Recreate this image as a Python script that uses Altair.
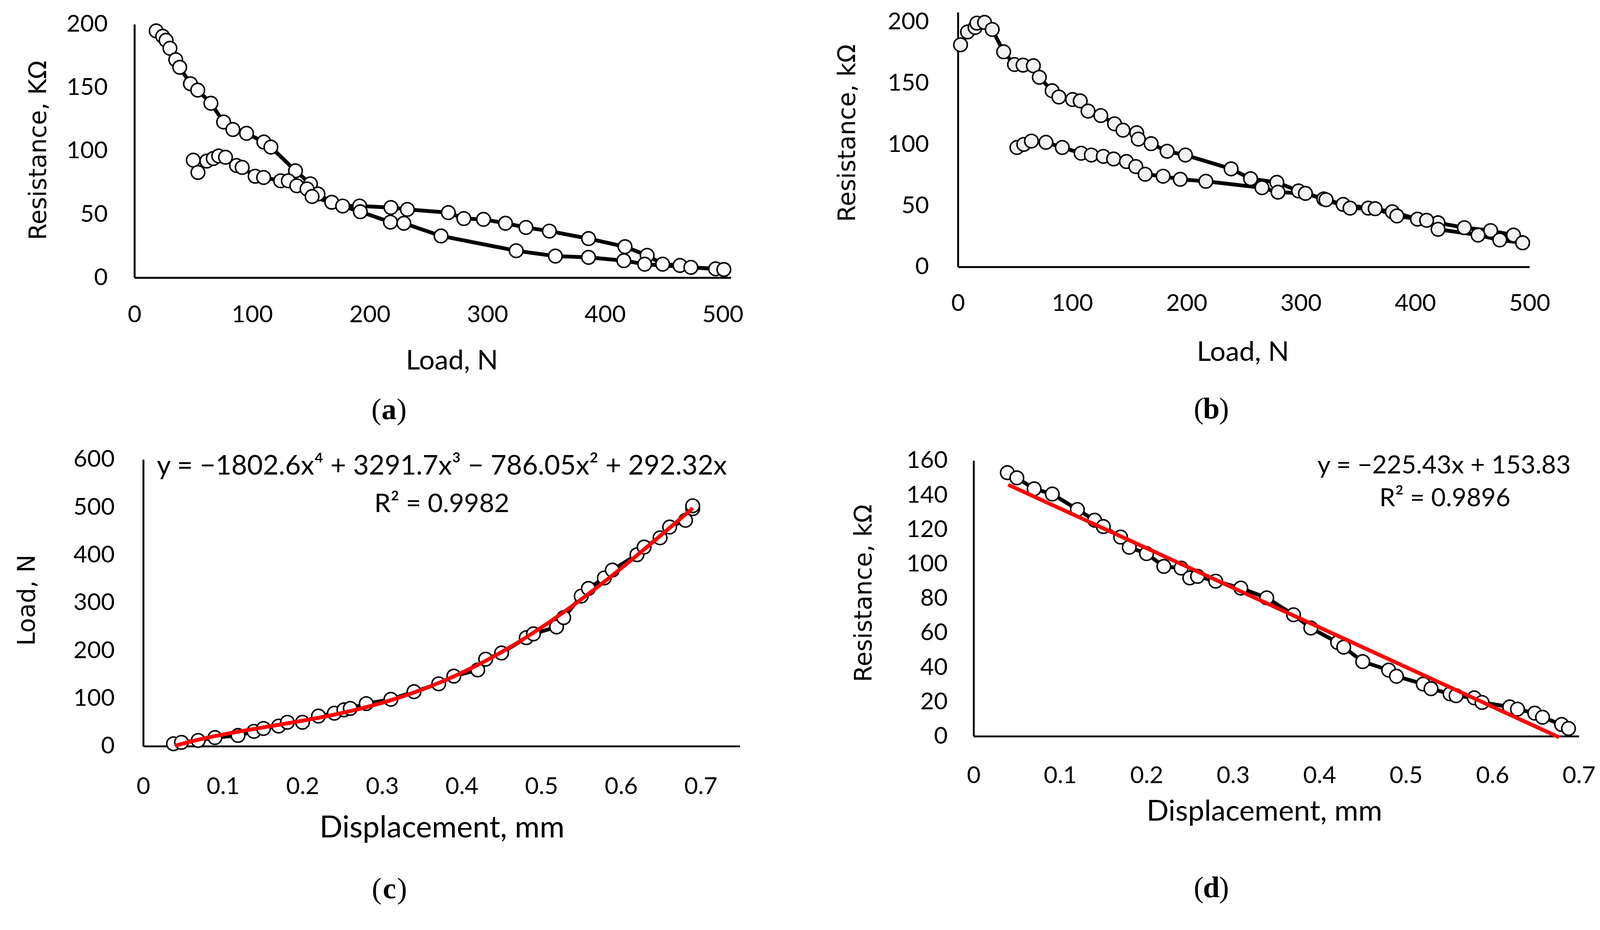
import altair as alt
import pandas as pd

# ---------------- data ----------------
# (a) Resistance vs Load (loading and unloading branches)
a_load_x = [18.5, 24, 26.9, 30.2, 35.1, 38.5, 47.6, 53.8, 65, 75.8, 83.7, 95.3, 110, 116, 136.9, 149.6, 156, 167.7,
            177, 191.4, 218, 232, 266.8, 280, 296.7, 315.4, 332.8, 352.7, 386, 417, 435.8, 449, 463.7, 473, 494, 501]
a_load_y = [194.7, 190.5, 187.3, 181, 172, 166, 153, 148, 137.6, 122.8, 116.9, 113.9, 107, 103, 84.3, 74, 66, 59.5,
            56.5, 56.5, 55.3, 53.8, 51.3, 46.6, 46, 42.9, 39.6, 36.7, 30.8, 24.4, 17.6, 10.6, 9.6, 8.1, 6.9, 6.4]
a_unload_x = [50, 54, 61.5, 67, 71.6, 77.4, 86.8, 91.6, 102.6, 109.8, 124.3, 130.8, 138, 146.7, 151, 192, 217.6,
              229, 260.6, 324.5, 357.8, 386, 416, 433.7, 501]
a_unload_y = [92.7, 83, 92, 94, 96, 95, 88.5, 87, 80, 79, 76.4, 76.4, 72.5, 70, 64, 52, 43.8,
              42.9, 32.9, 21.2, 17, 16, 13.4, 10.6, 6.4]

# (b) Resistance vs Load
b_load_x = [2.3, 8.4, 15, 16.6, 23.3, 30, 40, 49.5, 57, 66, 71.2, 82.4, 88.3, 100.3, 107, 113.8, 125, 137, 144.4,
            156.4, 157.8, 169, 183, 199, 239, 256, 279, 298, 320, 337, 359, 380, 402, 420, 443, 466, 486, 494]
b_load_y = [181.3, 191.8, 195.4, 199, 199.6, 193.8, 175.6, 165.2, 164.7, 164.2, 154.8, 143.8, 138.7, 136.6, 135.5,
            127.2, 123.5, 116.8, 111.6, 109.5, 104.3, 100.6, 94.4, 91.3, 80, 72, 69, 62, 55.5, 51, 48, 45, 39, 36,
            32, 29.6, 26, 19.7]
b_unload_x = [51.6, 57.6, 64.3, 77, 91.3, 107.8, 116.7, 127.2, 136.2, 147.4, 155.6, 163.8, 179.5, 194.5, 216.9,
              266, 280, 304, 322, 343, 365, 384, 410, 420, 455, 474, 494]
b_unload_y = [97.5, 100, 102.7, 101.7, 97.5, 92.8, 91.3, 90.2, 88.1, 86, 81.9, 75.6, 74, 71.5, 69.9,
              64.6, 61, 60, 54.8, 48, 47.5, 41.6, 38, 30.7, 26, 22, 19.7]

# (c) Load vs Displacement
c_x = [0.038, 0.048, 0.069, 0.09, 0.119, 0.139, 0.151, 0.17, 0.181, 0.2, 0.22, 0.24, 0.252, 0.26, 0.28, 0.311,
       0.34, 0.371, 0.39, 0.42, 0.43, 0.45, 0.481, 0.49, 0.519, 0.528, 0.55, 0.559, 0.579, 0.589, 0.62, 0.629,
       0.649, 0.661, 0.681, 0.69, 0.69]
c_y = [5, 8, 12, 18, 22.5, 31, 37, 42, 50, 50, 63, 69, 76, 79, 89, 98, 114, 130.5, 146.6, 159.5, 182, 195, 227,
       235, 249.5, 269, 314, 330, 352, 368.5, 400.6, 416.7, 436, 458.5, 472.7, 497, 503]

# (d) Resistance vs Displacement
d_x = [0.039, 0.05, 0.07, 0.091, 0.12, 0.14, 0.15, 0.17, 0.18, 0.2, 0.22, 0.24, 0.25, 0.259, 0.28, 0.309, 0.339,
       0.37, 0.39, 0.421, 0.428, 0.45, 0.48, 0.489, 0.52, 0.529, 0.551, 0.558, 0.579, 0.588, 0.62, 0.629, 0.649,
       0.658, 0.68, 0.688]
d_y = [153, 150, 143.6, 140.6, 131.6, 125.4, 121.7, 115.6, 109.7, 106, 98.6, 97.6, 91.9, 92.8, 90, 86, 80.3,
       70.5, 62.8, 54.4, 51.7, 43.3, 38.4, 34.8, 30.3, 27.6, 24.6, 23.5, 22.3, 19.6, 17, 15.7, 13.4, 11, 6.8, 4.5]

load_ticks = [0, 100, 200, 300, 400, 500]
disp_ticks = [0, 0.1, 0.2, 0.3, 0.4, 0.5, 0.6, 0.7]
res_ticks_ab = [0, 50, 100, 150, 200]
load_ticks_c = [0, 100, 200, 300, 400, 500, 600]
res_ticks_d = [0, 20, 40, 60, 80, 100, 120, 140, 160]

eq_c = ["y = \u22121802.6x\u2074 + 3291.7x\u00b3 \u2212 786.05x\u00b2 + 292.32x", "R\u00b2 = 0.9982"]
eq_d = ["y = \u2212225.43x + 153.83", "R\u00b2 = 0.9896"]

# ---------------- layout ----------------
W, H = 4163, 2365
DY = -24
TICK_FONT = "Lato"
YT_FONT = "DejaVu Sans"
AXIS_W = 5


def xaxis(values, fmt, title, bottom, label_pad, title_x, title_y, title_size=72):
    return alt.Axis(orient="bottom", offset=bottom - H, values=values, format=fmt, title=title,
                    ticks=False, tickSize=0, grid=False, domainColor="black", domainWidth=AXIS_W,
                    labelFont=TICK_FONT, labelFontSize=62, labelColor="black", labelPadding=label_pad,
                    labelFlush=False, labelOverlap=False,
                    titleFont=TICK_FONT, titleFontSize=title_size, titleFontWeight="normal", titleColor="black",
                    titleX=title_x, titleY=title_y, titleBaseline="alphabetic", titleAlign="center")


def yaxis(values, title, left, label_pad, title_x, title_y):
    return alt.Axis(orient="left", offset=-left, values=values, title=title,
                    ticks=False, tickSize=0, grid=False, domainColor="black", domainWidth=AXIS_W,
                    labelFont=TICK_FONT, labelFontSize=62, labelColor="black", labelPadding=label_pad,
                    labelFlush=False, labelOverlap=False,
                    titleFont=YT_FONT, titleFontSize=63, titleFontWeight="normal", titleColor="black",
                    titleAngle=270, titleX=title_x, titleY=title_y, titleBaseline="alphabetic",
                    titleAlign="center")


def series_df(pairs):
    rows = []
    for name, xs, ys in pairs:
        for i, (x, y) in enumerate(zip(xs, ys)):
            rows.append({"x": x, "y": y, "s": name, "i": i})
    return pd.DataFrame(rows)


def label_layers(cx, cy, letter):
    df = pd.DataFrame({"t": [0]})
    common = dict(font="Liberation Serif", fontSize=78, baseline="middle", color="black")
    l1 = alt.Chart(df).mark_text(text="(", align="right", **common).encode(
        x=alt.value(cx - 20), y=alt.value(cy + DY))
    l2 = alt.Chart(df).mark_text(text=letter, align="center", fontWeight="bold", **common).encode(
        x=alt.value(cx), y=alt.value(cy + DY))
    l3 = alt.Chart(df).mark_text(text=")", align="left", **common).encode(
        x=alt.value(cx + 20), y=alt.value(cy + DY))
    return [l1, l2, l3]


def text_layers(lines, positions, sizes):
    out = []
    for t, (px, py), fs in zip(lines, positions, sizes):
        out.append(alt.Chart(pd.DataFrame({"t": [t]})).mark_text(
            font=TICK_FONT, fontSize=fs, align="center", baseline="alphabetic", color="black").encode(
            x=alt.value(px), y=alt.value(py + DY), text="t:N"))
    return out


def panel(df, xs, ys, xax, yax, fill, trend=None, extra=()):
    enc = dict(x=alt.X("x:Q", scale=xs, axis=xax), y=alt.Y("y:Q", scale=ys, axis=yax))
    base = alt.Chart(df)
    layers = [
        base.mark_line(color="black", strokeWidth=10).encode(detail="s:N", order="i:Q", **enc),
        base.mark_circle(size=1250, fill=fill, stroke="black", strokeWidth=4, opacity=1,
                         fillOpacity=1).encode(**enc),
    ]
    if trend is not None:
        method, order, extent = trend
        kw = dict(method=method, extent=extent)
        if method == "poly":
            kw["order"] = order
        layers.append(base.transform_regression("x", "y", **kw).mark_line(
            color="#ff0000", strokeWidth=10).encode(**enc))
    layers.extend(extra)
    return alt.layer(*layers)


# (a)
df_a = series_df([("load", a_load_x, a_load_y), ("unload", a_unload_x, a_unload_y)])
pa = panel(df_a,
           alt.Scale(domain=[0, 507], range=[343, 1901], nice=False, zero=False),
           alt.Scale(domain=[0, 200], range=[717 + DY, 55 + DY], nice=False, zero=False),
           xaxis(load_ticks, "d", "Load, N", 717 + DY, 67, 1172, 240),
           yaxis(res_ticks_ab, "Resistance, K\u03a9", 343, 70, -231, 384 + DY),
           "white", extra=label_layers(1008, 1064, "a"))

# (b)
df_b = series_df([("load", b_load_x, b_load_y), ("unload", b_unload_x, b_unload_y)])
pb = panel(df_b,
           alt.Scale(domain=[0, 500], range=[2494, 3987], nice=False, zero=False),
           alt.Scale(domain=[0, 207.8], range=[689 + DY, 0], nice=False, zero=False),
           xaxis(load_ticks, "d", "Load, N", 689 + DY, 65, 3238, 245),
           yaxis(res_ticks_ab, "Resistance, k\u03a9", 2494, 76, -269, 339 + DY),
           "#f2f2f2", extra=label_layers(3156, 1062, "b"))

# (c)
df_c = series_df([("s", c_x, c_y)])
pc = panel(df_c,
           alt.Scale(domain=[0, 0.749], range=[366, 1924], nice=False, zero=False),
           alt.Scale(domain=[0, 600], range=[1941 + DY, 1192 + DY], nice=False, zero=False),
           xaxis(disp_ticks, ".1~f", "Displacement, mm", 1941 + DY, 76, 1146, 238, 79),
           yaxis(load_ticks_c, "Load, N", 366, 75, -284, 1559 + DY),
           "white", trend=("poly", 4, [0.04, 0.69]),
           extra=text_layers(eq_c, [(1146, 1232), (1146, 1329)], [71, 68]) + label_layers(1009, 2316, "c"))

# (d)
df_d = series_df([("s", d_x, d_y)])
pd_ = panel(df_d,
            alt.Scale(domain=[0, 0.7], range=[2535, 4116], nice=False, zero=False),
            alt.Scale(domain=[0, 160], range=[1915 + DY, 1195 + DY], nice=False, zero=False),
            xaxis(disp_ticks, ".1~f", "Displacement, mm", 1915 + DY, 73, 3294, 220, 76),
            yaxis(res_ticks_d, "Resistance, k\u03a9", 2535, 68, -267, 1541 + DY),
            "white", trend=("linear", 1, [0.04, 0.677]),
            extra=text_layers(eq_d, [(3764, 1228), (3766, 1314)], [66, 66]) + label_layers(3156, 2312, "d"))

chart = alt.layer(pa, pb, pc, pd_).resolve_scale(
    x="independent", y="independent").resolve_axis(
    x="independent", y="independent").properties(
    width=W, height=H, padding=0, autosize=alt.AutoSizeParams(type="none"),
    background="white").configure_view(strokeWidth=0)

chart.save("out.html", embed_options={"renderer": "svg", "actions": False})
